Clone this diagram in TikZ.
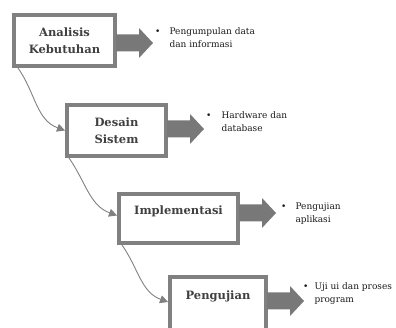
\documentclass[tikz,border=0pt]{standalone}
\usepackage{fontspec}
\setmainfont{DejaVu Serif}
\usetikzlibrary{positioning, arrows.meta, calc}
\definecolor{framegray}{RGB}{128,128,128}
\definecolor{arrowgray}{RGB}{120,120,120}
\definecolor{labelgray}{RGB}{64,64,64}

\tikzset{
  stage/.style={draw=framegray, line width=4pt, fill=white, align=center, inner sep=0pt,
    text=labelgray, font=\bfseries\fontsize{11.5}{17}\selectfont},
  note/.style={anchor=base west, inner sep=0pt, text=black!90,
    font=\fontsize{9}{12.5}\selectfont},
  flow/.style={draw=framegray, line width=0.9pt, -{Triangle[length=8pt,width=8pt]}},
}

\begin{document}
\begin{tikzpicture}[x=1pt,y=-1pt]
    \useasboundingbox (0,0) rectangle (396,328);
    \clip (0,0) rectangle (396,328);

    % Stages
    \node[stage, minimum width=101pt, minimum height=51pt] (analisis) at (64.5,40.5) {Analisis\\Kebutuhan};
    \node[stage, minimum width=99pt, minimum height=51pt] (desain) at (116.5,130.5) {Desain\\Sistem};
    \node[stage, minimum width=119pt, minimum height=49pt, text depth=16pt] (implementasi) at (178.5,218.5) {Implementasi};
    \node[stage, minimum width=96pt, minimum height=56pt, text depth=19pt] (pengujian) at (218,305) {Pengujian};

    % Block arrows to the notes
    \foreach \n/\dy in {analisis/2.5, desain/-1.5, implementasi/-5.5, pengujian/-4} {
        \fill[arrowgray] ($(\n.east)+(0,\dy)$) ++(-1,-8.5) -- ++(23,0) -- ++(0,-6.5)
            -- ++(14,15) -- ++(-14,15) -- ++(0,-6.5) -- ++(-23,0) -- cycle;
    }

    % Notes
    \node[note] (anote) at (155,35) {\textbullet\hspace{9pt}\parbox[t]{110pt}{Pengumpulan data\\dan informasi}};
    \node[note] (dnote) at (206,119) {\textbullet\hspace{10pt}\parbox[t]{100pt}{Hardware dan\\database}};
    \node[note] (inote) at (281,210) {\textbullet\hspace{9pt}\parbox[t]{80pt}{Pengujian\\aplikasi}};
    \node[note] (unote) at (303,290) {\textbullet\hspace{6pt}\parbox[t]{80pt}{Uji ui dan proses\\program}};

    % Flow between stages
    \draw[flow] ([xshift=6pt]analisis.south west) to[out=-55,in=160] (desain.west);
    \draw[flow] ([xshift=4pt]desain.south west) to[out=-55,in=160] ([yshift=3pt]implementasi.west);
    \draw[flow] ([xshift=5pt]implementasi.south west) to[out=-55,in=160] ([yshift=3pt]pengujian.west);

\end{tikzpicture}
\end{document}
